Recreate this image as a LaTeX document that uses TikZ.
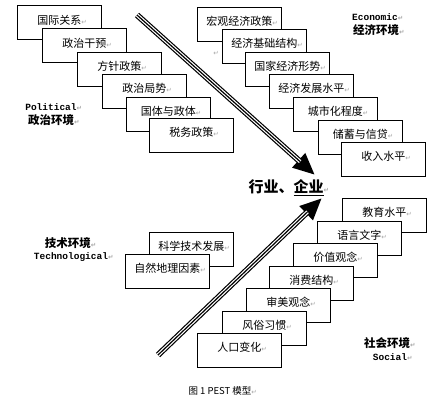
\documentclass[tikz,border=0pt]{standalone}
\usepackage{fontspec}
\usetikzlibrary{arrows.meta}
\newfontfamily\cjk{Noto Sans CJK SC}
\newfontfamily\dejavu{DejaVu Sans}
\newfontfamily\monob{Liberation Mono}
\newcommand\parmk{{\dejavu\color{gray!70}\fontsize{6.5}{7}\selectfont ↵}}
\tikzset{
  bx/.style={draw, fill=white, line width=0.9pt, minimum width=84pt, minimum height=34pt, anchor=north west, inner sep=0pt},
  bt/.style={font=\cjk\fontsize{11}{12}\selectfont, inner sep=0pt, anchor=center},
  lab/.style={font=\cjk\bfseries\fontsize{11.5}{12}\selectfont, inner sep=0pt},
  elab/.style={font=\monob\bfseries\fontsize{9.5}{10}\selectfont, inner sep=0pt},
  pmk/.style={inner sep=0pt},
}
\begin{document}
\begin{tikzpicture}[x=1pt,y=-1pt]
\useasboundingbox[fill=white] (0,0) rectangle (445,400);

% Political
\node[bx] (p1) at (17,5) {};   \node[bt] (p1t) at ([yshift=-15pt]p1.north) {国际关系\rlap{\parmk}};
\node[bx] (p2) at (42,28) {};  \node[bt] (p2t) at ([yshift=-15pt]p2.north) {政治干预\rlap{\parmk}};
\node[bx] (p3) at (77,52) {};  \node[bt] (p3t) at ([yshift=-14pt]p3.north) {方针政策\rlap{\parmk}};
\node[bx] (p4) at (102,74) {}; \node[bt] (p4t) at ([yshift=-14pt]p4.north) {政治局势\rlap{\parmk}};
\node[bx] (p5) at (126,97) {}; \node[bt] (p5t) at ([yshift=-14pt]p5.north) {国体与政体\rlap{\parmk}};
\node[bx] (p6) at (149,118) {};\node[bt] (p6t) at ([yshift=-14pt]p6.north) {税务政策\rlap{\parmk}};
\node[elab] (pl1) at (51,107) {Political\rlap{\parmk}};
\node[lab] (pl2) at (51,120) {政治环境\rlap{\parmk}};

% Economic
\node[pmk] (stray) at (216,53) {\parmk};
\node[bx] (e1) at (197,7) {};   \node[bt] (e1t) at ([yshift=-14pt]e1.north) {宏观经济政策\rlap{\parmk}};
\node[bx] (e2) at (222,29) {};  \node[bt] (e2t) at ([yshift=-14pt]e2.north) {经济基础结构\rlap{\parmk}};
\node[bx] (e3) at (245,52) {};  \node[bt] (e3t) at ([yshift=-14pt]e3.north) {国家经济形势\rlap{\parmk}};
\node[bx] (e4) at (269,74) {};  \node[bt] (e4t) at ([yshift=-14pt]e4.north) {经济发展水平\rlap{\parmk}};
\node[bx] (e5) at (293,97) {};  \node[bt] (e5t) at ([yshift=-14pt]e5.north) {城市化程度\rlap{\parmk}};
\node[bx] (e6) at (318,120) {}; \node[bt] (e6t) at ([yshift=-14pt]e6.north) {储蓄与信贷\rlap{\parmk}};
\node[bx] (e7) at (341,142) {}; \node[bt] (e7t) at ([yshift=-14pt]e7.north) {收入水平\rlap{\parmk}};
\node[elab] (el1) at (375,17) {Economic\rlap{\parmk}};
\node[lab] (el2) at (376,30) {经济环境\rlap{\parmk}};

% Technological
\node[bx] (t1) at (149,232) {}; \node[bt] (t1t) at ([yshift=-14pt]t1.north) {科学技术发展\rlap{\parmk}};
\node[bx] (t2) at (125,254) {}; \node[bt] (t2t) at ([yshift=-14pt]t2.north) {自然地理因素\rlap{\parmk}};
\node[lab] (tl1) at (68,243) {技术环境\rlap{\parmk}};
\node[elab] (tl2) at (71,257) {Technological\rlap{\parmk}};

% Social
\node[bx] (s1) at (342,198) {}; \node[bt] (s1t) at ([yshift=-14pt]s1.north) {教育水平\rlap{\parmk}};
\node[bx] (s2) at (317,221) {}; \node[bt] (s2t) at ([yshift=-14pt]s2.north) {语言文字\rlap{\parmk}};
\node[bx] (s3) at (293,243) {}; \node[bt] (s3t) at ([yshift=-14pt]s3.north) {价值观念\rlap{\parmk}};
\node[bx] (s4) at (269,266) {}; \node[bt] (s4t) at ([yshift=-14pt]s4.north) {消费结构\rlap{\parmk}};
\node[bx] (s5) at (246,288) {}; \node[bt] (s5t) at ([yshift=-14pt]s5.north) {审美观念\rlap{\parmk}};
\node[bx] (s6) at (222,311) {}; \node[bt] (s6t) at ([yshift=-14pt]s6.north) {风俗习惯\rlap{\parmk}};
\node[bx] (s7) at (197,333) {}; \node[bt] (s7t) at ([yshift=-14pt]s7.north) {人口变化\rlap{\parmk}};
\node[lab] (sl1) at (387,343) {社会环境\rlap{\parmk}};
\node[elab] (sl2) at (390,357) {Social\rlap{\parmk}};

% centre
\node[font=\cjk\bfseries\fontsize{15}{16}\selectfont, inner sep=0pt] (ind) at (286,188) {行业、\underline{企业}\rlap{\parmk}};

% arrows
\coordinate (a1s) at (137,15); \coordinate (a1e) at (315,175);
\coordinate (a2s) at (158,355); \coordinate (a2e) at (322,198);
\foreach \s/\e in {a1s/a1e, a2s/a2e}{
  \draw[line width=6pt, -{Triangle[length=22pt,width=18pt]}] (\s) -- (\e);
  \draw[white, line width=3.6pt, shorten >=20pt] (\s) -- (\e);
  \draw[line width=1.2pt, shorten >=20pt] (\s) -- (\e);
}

% caption
\node[font=\cjk\fontsize{9.5}{10}\selectfont, inner sep=0pt] (cap) at (220,391) {图 1 PEST 模型\rlap{\parmk}};
\end{tikzpicture}
\end{document}
